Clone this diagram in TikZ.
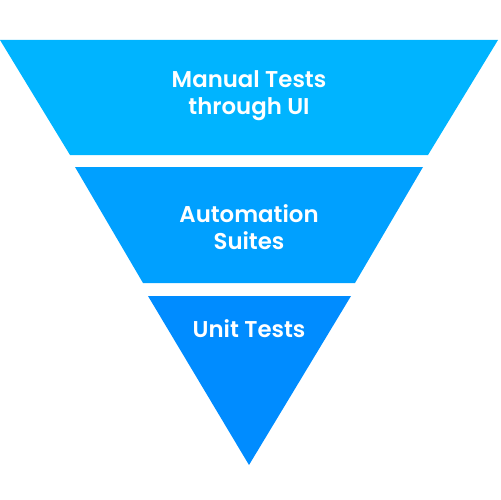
\documentclass[tikz,border=0pt]{standalone}
\usepackage{fontspec}
\newfontfamily\bandfont{Poppins SemiBold}
\usetikzlibrary{positioning}

\definecolor{topblue}{RGB}{0,180,255}
\definecolor{midblue}{RGB}{0,160,255}
\definecolor{lowblue}{RGB}{0,140,255}

\tikzset{
    bandlabel/.style={text=white, font=\bandfont\fontsize{13}{15.4}\selectfont, align=center, inner sep=0pt}
}

\begin{document}
\begin{tikzpicture}[x=0.02cm, y=-0.02cm]
    \useasboundingbox (0,0) rectangle (500,500);

    % Bands
    \fill[topblue] (0,40) -- (498,40) -- (428,155) -- (70,155) -- cycle;
    \fill[midblue] (75,167) -- (423,167) -- (355,283) -- (143,283) -- cycle;
    \fill[lowblue] (148,296) -- (351,296) -- (249,465) -- cycle;

    % Labels
    \node[bandlabel] (manual) at (249,96) {Manual Tests\\through UI};
    \node[bandlabel] (auto) at (249,227) {Automation\\Suites};
    \node[bandlabel] (unit) at (249,329) {Unit Tests};
\end{tikzpicture}
\end{document}
